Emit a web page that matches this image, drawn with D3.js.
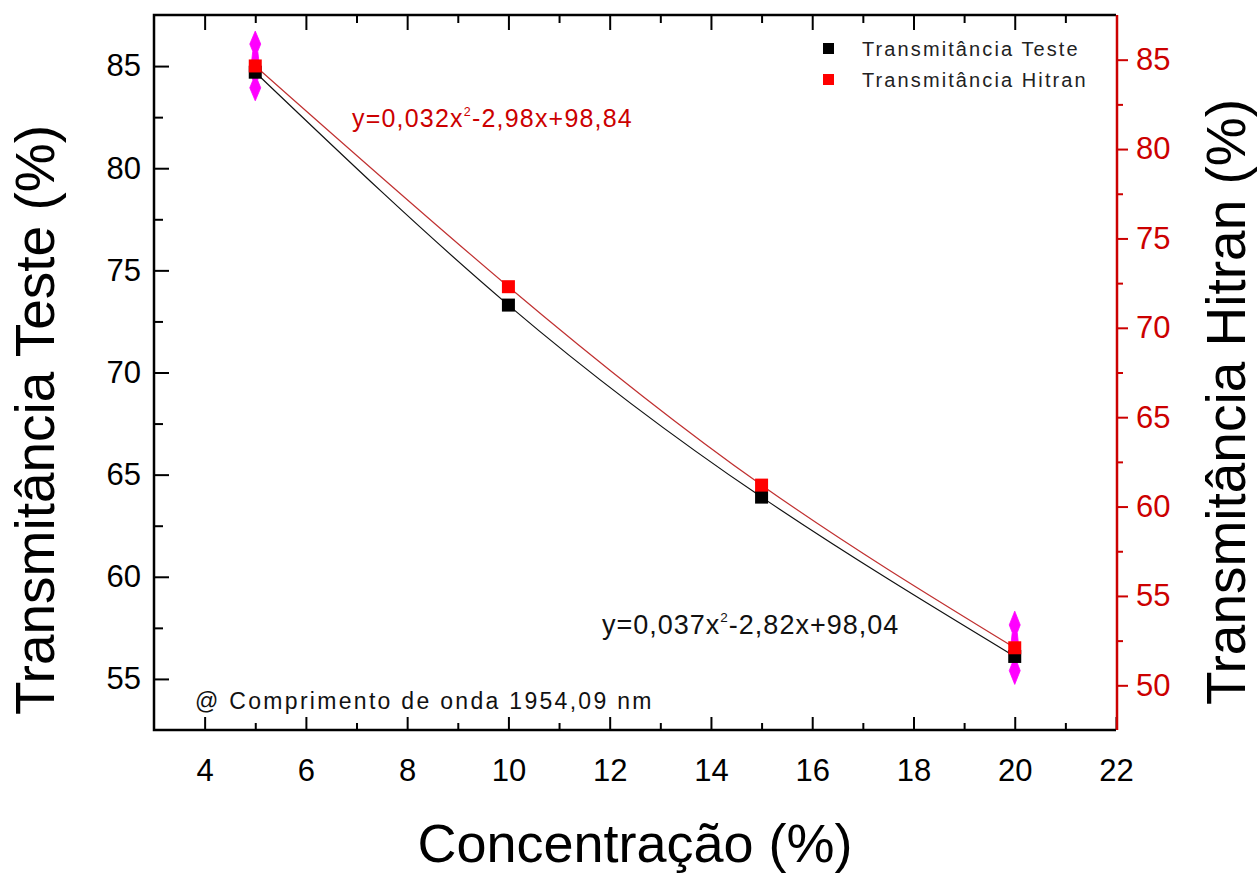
<!DOCTYPE html>
<html><head><meta charset="utf-8">
<script src="https://cdn.jsdelivr.net/npm/d3@7"></script>
<style>
body{margin:0;background:#fff}
text{font-family:"Liberation Sans",Arial,sans-serif}
</style>
</head><body>
<svg id="c" width="1259" height="873"></svg>
<script>
// ---- data ----
const concentration = [5, 10, 15, 20];
const transTeste    = [84.7, 73.3, 63.9, 56.1];
const transHitran   = [84.65, 72.3, 61.2, 52.1];
const hitranError   = [1.95, 0, 0, 2.05];
const xTicks     = [4, 6, 8, 10, 12, 14, 16, 18, 20, 22];
const xMinor     = [3, 5, 7, 9, 11, 13, 15, 17, 19, 21];
const leftTicks  = [55, 60, 65, 70, 75, 80, 85];
const leftMinor  = [57.5, 62.5, 67.5, 72.5, 77.5, 82.5, 87.5, 52.5];
const rightTicks = [50, 55, 60, 65, 70, 75, 80, 85];
const rightMinor = [47.5, 52.5, 57.5, 62.5, 67.5, 72.5, 77.5, 82.5, 87.5];
const seriesNames = ["Transmitância Teste", "Transmitância Hitran"];
const eqTeste  = ["y=0,037x", "2", "-2,82x+98,04"];
const eqHitran = ["y=0,032x", "2", "-2,98x+98,84"];
const note = "@ Comprimento de onda 1954,09 nm";
const xTitle = "Concentração (%)";
const yLeftTitle = "Transmitância Teste (%)";
const yRightTitle = "Transmitância Hitran (%)";

// ---- layout ----
const L = 154, R = 1116, T = 15, B = 730;
const RED = "#cc0000", SQRED = "#ff0000", MAG = "#ff00ff";
const svg = d3.select("#c");

const x  = d3.scaleLinear().domain([3, 22]).range([L, R]);
const yL = d3.scaleLinear().domain([52.5, 87.5]).range([B, T]);
const yR = d3.scaleLinear().domain([47.5, 87.5]).range([B, T]);

function styleAxis(g, color, fs) {
  g.select(".domain").remove();
  g.selectAll(".tick line").attr("stroke", color).attr("stroke-width", 2);
  g.selectAll(".tick text").attr("fill", color).style("font-size", fs + "px")
    .style("font-family", '"Liberation Sans",Arial,sans-serif');
}

// bottom axis
svg.append("g").attr("transform", `translate(0,${B})`)
  .call(d3.axisBottom(x).tickValues(xTicks).tickSize(-13).tickSizeOuter(0).tickPadding(29).tickFormat(d3.format("d")))
  .call(g => styleAxis(g, "#000", 31));
svg.append("g").attr("transform", `translate(0,${B})`)
  .call(d3.axisBottom(x).tickValues(xMinor.filter(v => v > 3)).tickSize(-7).tickSizeOuter(0).tickFormat(""))
  .call(g => styleAxis(g, "#000", 31));
// top axis
svg.append("g").attr("transform", `translate(0,${T})`)
  .call(d3.axisTop(x).tickValues(xTicks.filter(v => v < 22)).tickSize(-15).tickSizeOuter(0).tickFormat(""))
  .call(g => styleAxis(g, "#000", 31));
svg.append("g").attr("transform", `translate(0,${T})`)
  .call(d3.axisTop(x).tickValues(xMinor.filter(v => v > 3)).tickSize(-8).tickSizeOuter(0).tickFormat(""))
  .call(g => styleAxis(g, "#000", 31));
// left axis
svg.append("g").attr("transform", `translate(${L},0)`)
  .call(d3.axisLeft(yL).tickValues(leftTicks).tickSize(-15).tickSizeOuter(0).tickPadding(13).tickFormat(d3.format("d")))
  .call(g => styleAxis(g, "#000", 31));
svg.append("g").attr("transform", `translate(${L},0)`)
  .call(d3.axisLeft(yL).tickValues(leftMinor.filter(v => v > 52.5 && v < 87.5)).tickSize(-9).tickSizeOuter(0).tickFormat(""))
  .call(g => styleAxis(g, "#000", 31));
// right axis (red)
svg.append("g").attr("transform", `translate(${R},0)`)
  .call(d3.axisRight(yR).tickValues(rightTicks).tickSize(12).tickSizeOuter(0).tickPadding(8).tickFormat(d3.format("d")))
  .call(g => styleAxis(g, RED, 31));
svg.append("g").attr("transform", `translate(${R},0)`)
  .call(d3.axisRight(yR).tickValues(rightMinor.filter(v => v > 47.5 && v < 87.5)).tickSize(7).tickSizeOuter(0).tickFormat(""))
  .call(g => styleAxis(g, RED, 31));

// frame
svg.append("path").attr("d", `M${R},${T}H${L}V${B}H${R}`).attr("fill", "none").attr("stroke", "#000").attr("stroke-width", 2.5);
svg.append("line").attr("x1", R + 1).attr("x2", R + 1).attr("y1", T).attr("y2", B).attr("stroke", RED).attr("stroke-width", 2.5);

// fit curves
const lineL = d3.line().x((d, i) => x(concentration[i])).y(d => yL(d)).curve(d3.curveNatural);
const lineR = d3.line().x((d, i) => x(concentration[i])).y(d => yR(d)).curve(d3.curveNatural);
svg.append("path").attr("d", lineL(transTeste)).attr("fill", "none").attr("stroke", "#111").attr("stroke-width", 1.2);
svg.append("path").attr("d", lineR(transHitran)).attr("fill", "none").attr("stroke", "#c03030").attr("stroke-width", 1.2);

// error bars (arrow-like spindles)
hitranError.forEach((e, i) => {
  if (!e) return;
  const cx = x(concentration[i]), c = yR(transHitran[i]);
  const top = yR(transHitran[i] + e), bot = yR(transHitran[i] - e);
  [[top, c - 6], [bot, c + 6]].forEach(([tip, base]) => {
    const len = base - tip;
    const p = t => tip + len * t;
    const d = `M${cx},${tip} L${cx + 5.5},${p(0.45)} L${cx + 2.5},${p(0.7)} L${cx + 3.5},${base} L${cx - 3.5},${base} L${cx - 2.5},${p(0.7)} L${cx - 5.5},${p(0.45)} Z`;
    svg.append("path").attr("d", d).attr("fill", MAG).attr("stroke", MAG).attr("stroke-width", 0.8);
  });
});

// markers
const S = 13;
svg.append("g").selectAll("rect").data(transTeste).join("rect")
  .attr("x", (d, i) => x(concentration[i]) - S / 2).attr("y", d => yL(d) - S / 2)
  .attr("width", S).attr("height", S).attr("fill", "#000");
svg.append("g").selectAll("rect").data(transHitran).join("rect")
  .attr("x", (d, i) => x(concentration[i]) - S / 2).attr("y", d => yR(d) - S / 2)
  .attr("width", S).attr("height", S).attr("fill", SQRED);

// legend
const lg = svg.append("g");
[["#000", 0], [SQRED, 1]].forEach(([col, i]) => {
  lg.append("rect").attr("x", 823).attr("y", 43 + i * 31).attr("width", 11).attr("height", 11).attr("fill", col);
  lg.append("text").attr("x", 862).attr("y", 56 + i * 31).attr("fill", "#222")
    .style("font-size", "20px").style("letter-spacing", "2.1px").text(seriesNames[i]);
});

// equations
function eq(parts, xx, yy, fs, col, ls) {
  const t = svg.append("text").attr("x", xx).attr("y", yy).attr("fill", col).style("font-size", fs + "px").style("letter-spacing", ls + "px");
  t.append("tspan").text(parts[0]);
  t.append("tspan").attr("dy", -fs * 0.45).style("font-size", (fs * 0.5) + "px").text(parts[1]);
  t.append("tspan").attr("dy", fs * 0.45).text(parts[2]);
}
eq(eqHitran, 352, 127, 25, RED, 1.2);
eq(eqTeste, 602, 634, 27, "#111", 1.0);

// note
svg.append("text").attr("x", 195).attr("y", 709).attr("fill", "#111")
  .style("font-size", "23px").style("letter-spacing", "2.3px").text(note);

// axis titles
svg.append("text").attr("x", 635).attr("y", 862).attr("text-anchor", "middle").attr("fill", "#000")
  .style("font-size", "54px").text(xTitle);
svg.append("text").attr("transform", "translate(54,420) rotate(-90)").attr("text-anchor", "middle").attr("fill", "#000")
  .style("font-size", "55px").text(yLeftTitle);
svg.append("text").attr("transform", "translate(1245,402) rotate(-90)").attr("text-anchor", "middle").attr("fill", "#000")
  .style("font-size", "55px").text(yRightTitle);
</script>
</body></html>
